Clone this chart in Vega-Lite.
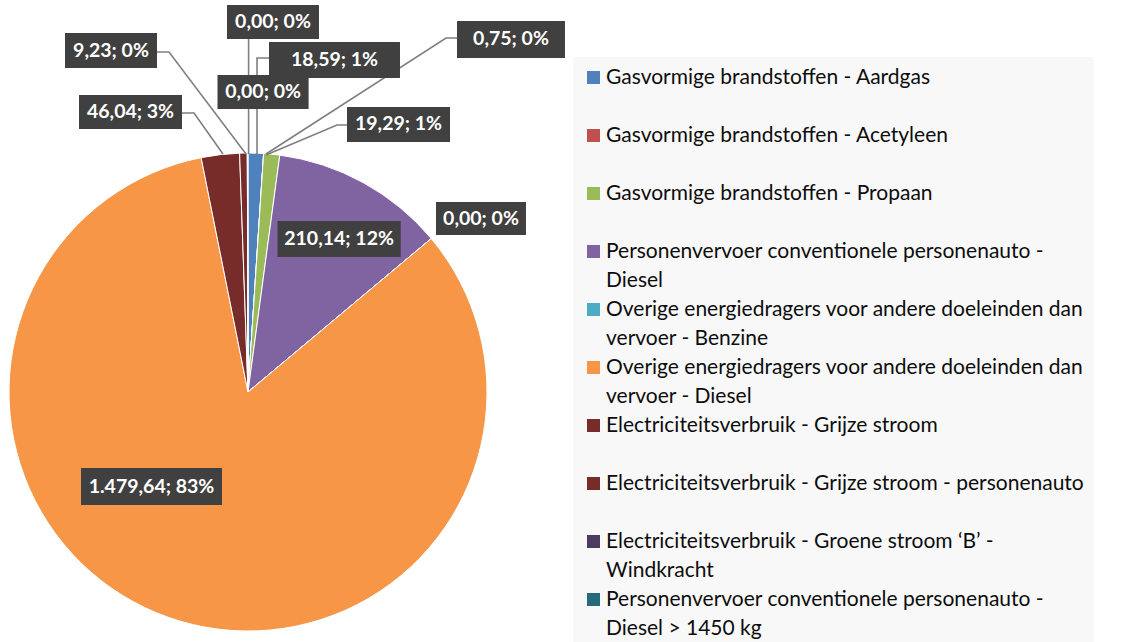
{
  "$schema": "https://vega.github.io/schema/vega-lite/v6.json",
  "width": 480,
  "height": 480,
  "autosize": {"type": "none"},
  "padding": {"left": 8, "top": 152, "right": 641, "bottom": 10},
  "background": "#ffffff",
  "config": {
    "view": {"stroke": null},
    "style": {"guide-label": {"lineHeight": 29, "dy": 6}}
  },
  "datasets": {
    "slices": [
      {"nr": 1, "categorie": "Gasvormige brandstoffen - Aardgas", "waarde": 18.59},
      {"nr": 2, "categorie": "Gasvormige brandstoffen - Acetyleen", "waarde": 0},
      {"nr": 3, "categorie": "Gasvormige brandstoffen - Propaan", "waarde": 19.29},
      {"nr": 4, "categorie": "Personenvervoer conventionele personenauto - Diesel", "waarde": 210.14},
      {"nr": 5, "categorie": "Overige energiedragers voor andere doeleinden dan vervoer - Benzine", "waarde": 0},
      {"nr": 6, "categorie": "Overige energiedragers voor andere doeleinden dan vervoer - Diesel", "waarde": 1479.64},
      {"nr": 7, "categorie": "Electriciteitsverbruik - Grijze stroom", "waarde": 46.04},
      {"nr": 8, "categorie": "Electriciteitsverbruik - Grijze stroom - personenauto", "waarde": 9.23},
      {"nr": 9, "categorie": "Electriciteitsverbruik - Groene stroom ‘B’ - Windkracht", "waarde": 0},
      {"nr": 10, "categorie": "Personenvervoer conventionele personenauto - Diesel > 1450 kg", "waarde": 0.75}
    ],
    "labels": [
      {"tekst": "0,00; 0%", "cx": 0.1042, "cy": 1.5417, "bx1": -0.0875, "bx2": 0.2958, "by1": 1.6125, "by2": 1.4708},
      {"tekst": "9,23; 0%", "cx": -0.5708, "cy": 1.4229, "bx1": -0.7625, "bx2": -0.3792, "by1": 1.4958, "by2": 1.35},
      {"tekst": "18,59; 1%", "cx": 0.3604, "cy": 1.3833, "bx1": 0.0875, "bx2": 0.6333, "by1": 1.4583, "by2": 1.3083},
      {"tekst": "0,00; 0%", "cx": 0.0627, "cy": 1.25, "bx1": -0.1271, "bx2": 0.2525, "by1": 1.3208, "by2": 1.1792},
      {"tekst": "0,75; 0%", "cx": 1.0958, "cy": 1.4688, "bx1": 0.8708, "bx2": 1.3208, "by1": 1.5458, "by2": 1.3917},
      {"tekst": "46,04; 3%", "cx": -0.4896, "cy": 1.1667, "bx1": -0.7042, "bx2": -0.275, "by1": 1.2375, "by2": 1.0958},
      {"tekst": "19,29; 1%", "cx": 0.6271, "cy": 1.1146, "bx1": 0.4125, "bx2": 0.8417, "by1": 1.1875, "by2": 1.0417},
      {"tekst": "0,00; 0%", "cx": 0.9708, "cy": 0.7229, "bx1": 0.7833, "bx2": 1.1583, "by1": 0.7917, "by2": 0.6542},
      {"tekst": "210,14; 12%", "cx": 0.3796, "cy": 0.6375, "bx1": 0.1229, "bx2": 0.6363, "by1": 0.7125, "by2": 0.5625},
      {"tekst": "1.479,64; 83%", "cx": -0.4021, "cy": -0.3938, "bx1": -0.6958, "bx2": -0.1083, "by1": -0.3167, "by2": -0.4708}
    ],
    "leaders": [
      {"id": "A", "seq": 1, "lx": 0.0025, "ly": 1.4708},
      {"id": "A", "seq": 2, "lx": 0.0025, "ly": 0.9917},
      {"id": "B", "seq": 1, "lx": -0.3792, "ly": 1.4167},
      {"id": "B", "seq": 2, "lx": -0.3292, "ly": 1.4167},
      {"id": "B", "seq": 3, "lx": -0.0083, "ly": 0.9917},
      {"id": "C", "seq": 1, "lx": 0.0875, "ly": 1.3917},
      {"id": "C", "seq": 2, "lx": 0.0375, "ly": 1.3917},
      {"id": "C", "seq": 3, "lx": 0.0375, "ly": 0.9917},
      {"id": "E", "seq": 1, "lx": 0.8708, "ly": 1.475},
      {"id": "E", "seq": 2, "lx": 0.825, "ly": 1.475},
      {"id": "E", "seq": 3, "lx": 0.075, "ly": 0.9917},
      {"id": "F", "seq": 1, "lx": -0.275, "ly": 1.1625},
      {"id": "F", "seq": 2, "lx": -0.225, "ly": 1.1625},
      {"id": "F", "seq": 3, "lx": -0.1042, "ly": 0.9917},
      {"id": "G", "seq": 1, "lx": 0.4125, "ly": 1.1125},
      {"id": "G", "seq": 2, "lx": 0.3708, "ly": 1.1125},
      {"id": "G", "seq": 3, "lx": 0.075, "ly": 0.9875}
    ]
  },
  "layer": [
    {
      "data": {"name": "slices"},
      "mark": {"type": "arc", "outerRadius": 239, "stroke": "#ffffff", "strokeWidth": 1},
      "encoding": {
        "theta": {"field": "waarde", "type": "quantitative", "stack": true},
        "order": {"field": "nr", "type": "quantitative"},
        "color": {
          "field": "categorie",
          "type": "nominal",
          "scale": {
            "domain": [
              "Gasvormige brandstoffen - Aardgas",
              "Gasvormige brandstoffen - Acetyleen",
              "Gasvormige brandstoffen - Propaan",
              "Personenvervoer conventionele personenauto - Diesel",
              "Overige energiedragers voor andere doeleinden dan vervoer - Benzine",
              "Overige energiedragers voor andere doeleinden dan vervoer - Diesel",
              "Electriciteitsverbruik - Grijze stroom",
              "Electriciteitsverbruik - Grijze stroom - personenauto",
              "Electriciteitsverbruik - Groene stroom ‘B’ - Windkracht",
              "Personenvervoer conventionele personenauto - Diesel > 1450 kg"
            ],
            "range": ["#4F81BD", "#C0504D", "#9BBB59", "#8064A2", "#4BACC6", "#F79646", "#772C2A", "#772C2A", "#4D3B62", "#276A7C"]
          },
          "legend": {
            "title": null,
            "orient": "none",
            "legendX": 565,
            "legendY": -95,
            "padding": 10,
            "fillColor": "#F8F8F8",
            "symbolType": "square",
            "symbolSize": 169,
            "symbolStrokeWidth": 0,
            "symbolOpacity": 1,
            "labelFont": "Lato",
            "labelFontSize": 21,
            "labelColor": "#0D0D0D",
            "labelOffset": 2,
            "labelLimit": 700,
            "labelBaseline": "alphabetic",
            "rowPadding": 7,
            "labelExpr": "datum.label == 'Personenvervoer conventionele personenauto - Diesel' ? ['Personenvervoer conventionele personenauto -', 'Diesel'] : datum.label == 'Overige energiedragers voor andere doeleinden dan vervoer - Benzine' ? ['Overige energiedragers voor andere doeleinden dan', 'vervoer - Benzine'] : datum.label == 'Overige energiedragers voor andere doeleinden dan vervoer - Diesel' ? ['Overige energiedragers voor andere doeleinden dan', 'vervoer - Diesel'] : datum.label == 'Electriciteitsverbruik - Groene stroom ‘B’ - Windkracht' ? ['Electriciteitsverbruik - Groene stroom ‘B’ -', 'Windkracht'] : datum.label == 'Personenvervoer conventionele personenauto - Diesel > 1450 kg' ? ['Personenvervoer conventionele personenauto -', 'Diesel > 1450 kg'] : [datum.label, '']"
          }
        }
      }
    },
    {
      "data": {"name": "leaders"},
      "mark": {"type": "line", "stroke": "#7F7F7F", "strokeWidth": 1.6, "clip": false},
      "encoding": {
        "x": {"field": "lx", "type": "quantitative", "scale": {"domain": [-1, 1]}, "axis": null},
        "y": {"field": "ly", "type": "quantitative", "scale": {"domain": [-1, 1]}, "axis": null},
        "detail": {"field": "id"},
        "order": {"field": "seq", "type": "quantitative"}
      }
    },
    {
      "data": {"name": "labels"},
      "mark": {"type": "rect", "fill": "#404040", "clip": false},
      "encoding": {
        "x": {"field": "bx1", "type": "quantitative", "scale": {"domain": [-1, 1]}, "axis": null},
        "x2": {"field": "bx2"},
        "y": {"field": "by1", "type": "quantitative", "scale": {"domain": [-1, 1]}, "axis": null},
        "y2": {"field": "by2"}
      }
    },
    {
      "data": {"name": "labels"},
      "mark": {"type": "text", "font": "Lato", "fontWeight": "bold", "fontSize": 19.5, "fill": "#ffffff", "align": "center", "baseline": "middle", "clip": false},
      "encoding": {
        "x": {"field": "cx", "type": "quantitative", "scale": {"domain": [-1, 1]}, "axis": null},
        "y": {"field": "cy", "type": "quantitative", "scale": {"domain": [-1, 1]}, "axis": null},
        "text": {"field": "tekst"}
      }
    }
  ]
}
